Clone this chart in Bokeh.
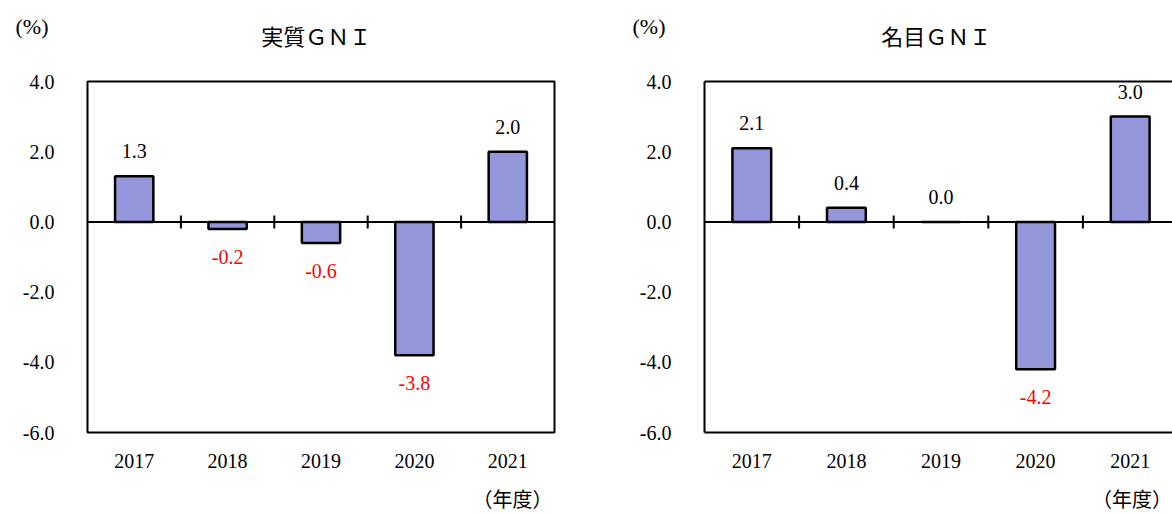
import math
from bokeh.plotting import figure
from bokeh.models import Range1d, FixedTicker, NumeralTickFormatter, LinearAxis, Span, Title
from bokeh.layouts import row
from bokeh.embed import file_html
from bokeh.resources import INLINE
from bokeh.core.properties import value

years = ["2017", "2018", "2019", "2020", "2021"]
real_gni = [1.3, -0.2, -0.6, -3.8, 2.0]
nominal_gni = [2.1, 0.4, 0.0, -4.2, 3.0]
y_ticks = [-6, -4, -2, 0, 2, 4]
titles = ["実質ＧＮＩ", "名目ＧＮＩ"]
unit_label = "(%)"
x_unit_label = "（年度）"

BAR_COLOR = "#9595da"
SERIF = "Liberation Serif"
CJK = "Noto Sans CJK JP"
FS = "20px"


def make_panel(vals, title, width, b_left, b_right, x_end, use_outline,
               title_pos, unit_offset, year_unit_pos):
    idx = list(range(len(years)))
    p = figure(width=width, height=515, output_backend="svg", toolbar_location=None,
               x_range=Range1d(-0.5, x_end), y_range=Range1d(-6, 4),
               min_border_left=b_left, min_border_right=b_right,
               min_border_top=81, min_border_bottom=83)
    p.grid.visible = False
    p.background_fill_color = "white"
    p.border_fill_color = "white"
    if use_outline:
        p.outline_line_color = "black"
        p.outline_line_width = 2
        p.outline_line_alpha = 1
    else:
        p.outline_line_color = None

    p.yaxis.ticker = FixedTicker(ticks=y_ticks)
    p.yaxis.formatter = NumeralTickFormatter(format="0.0")
    p.yaxis.major_tick_line_color = None
    p.yaxis.minor_tick_line_color = None
    p.yaxis.major_label_standoff = 27
    p.yaxis.major_label_text_font = SERIF
    p.yaxis.major_label_text_font_size = FS
    p.yaxis.major_label_text_color = "black"
    p.xaxis.ticker = FixedTicker(ticks=idx)
    p.xaxis.major_label_overrides = {i: y for i, y in zip(idx, years)}
    p.xaxis.major_tick_line_color = None
    p.xaxis.minor_tick_line_color = None
    p.xaxis.major_label_standoff = 15
    p.xaxis.major_label_text_font = SERIF
    p.xaxis.major_label_text_font_size = FS
    p.xaxis.major_label_text_color = "black"
    if use_outline:
        p.xaxis.axis_line_color = None
        p.yaxis.axis_line_color = None
    else:
        for ax in (p.xaxis[0], p.yaxis[0]):
            ax.axis_line_color = "black"
            ax.axis_line_width = 2

    # chart title carried by a top axis (its line doubles as the top border)
    top = LinearAxis(ticker=FixedTicker(ticks=[title_pos]),
                     major_label_overrides={title_pos: title},
                     major_tick_line_color=None, minor_tick_line_color=None,
                     major_label_standoff=25, major_label_text_font=CJK,
                     major_label_text_font_size="22px", major_label_text_color="black",
                     axis_line_width=2,
                     axis_line_color=None if use_outline else "black")
    p.add_layout(top, "above")
    # unit above the y labels
    p.add_layout(Title(text=unit_label, align="left", offset=unit_offset, standoff=-46,
                       text_font=SERIF, text_font_size="22px", text_font_style="normal",
                       text_color="black"), "above")
    # unit below the year labels
    bottom2 = LinearAxis(ticker=FixedTicker(ticks=[year_unit_pos]),
                         major_label_overrides={year_unit_pos: x_unit_label},
                         major_tick_line_color=None, minor_tick_line_color=None,
                         major_label_standoff=7, major_label_text_font=CJK,
                         major_label_text_font_size="20px", major_label_text_color="black",
                         axis_line_color=None)
    p.add_layout(bottom2, "below")

    p.vbar(x=idx, top=vals, bottom=0, width=0.41, fill_color=BAR_COLOR,
           line_color="black", line_width=2.5)
    p.add_layout(Span(location=0, dimension="width", line_color="black", line_width=2))
    seps = [i + 0.5 for i in idx[:-1]]
    p.scatter(x=seps, y=[0] * len(seps), marker="dash", angle=math.pi / 2, size=13,
              line_color="black", line_width=2)

    pos_x = [i for i, v in zip(idx, vals) if v >= 0]
    pos_v = [v for v in vals if v >= 0]
    neg_x = [i for i, v in zip(idx, vals) if v < 0]
    neg_v = [v for v in vals if v < 0]
    p.text(x=pos_x, y=pos_v, text=[f"{v:.1f}" for v in pos_v], text_align="center",
           text_baseline="middle", y_offset=-25, text_font=value(SERIF),
           text_font_size=FS, text_color="black")
    p.text(x=neg_x, y=neg_v, text=[f"{v:.1f}" for v in neg_v], text_align="center",
           text_baseline="middle", y_offset=28, text_font=value(SERIF),
           text_font_size=FS, text_color="#ff0000")
    return p


p1 = make_panel(real_gni, titles[0], 620, 87, 66, 4.5, True,
                title_pos=1.95, unit_offset=-72, year_unit_pos=4.05)
right_spacing = 94.6
p2 = make_panel(nominal_gni, titles[1], 552, 84, 0, -0.5 + 468 / right_spacing, False,
                title_pos=1.95, unit_offset=-72, year_unit_pos=4.02)

layout = row(p1, p2)
open("out.html", "w").write(file_html(layout, INLINE))
